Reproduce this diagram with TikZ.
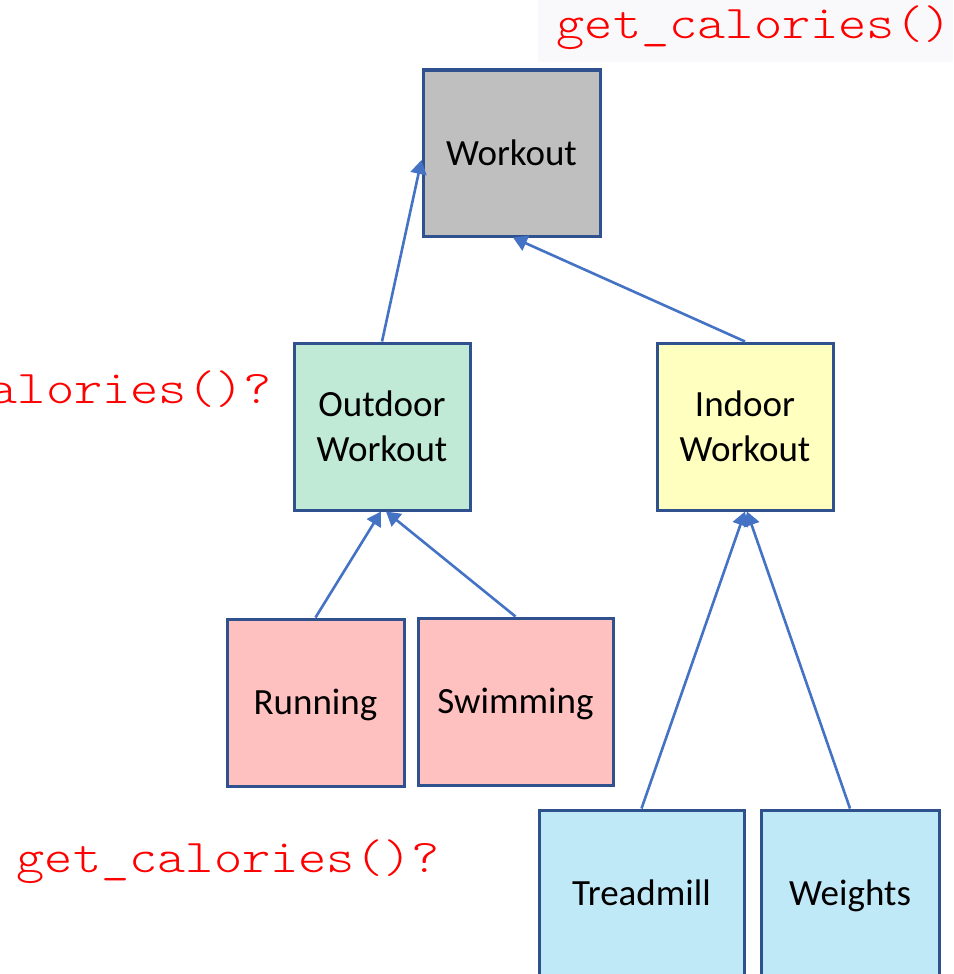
\documentclass[tikz,border=0pt]{standalone}
\usepackage{fontspec}
\setmainfont{Carlito}
\newfontfamily\codefont[FakeStretch=1.143]{Latin Modern Mono Light}
\usetikzlibrary{arrows.meta,calc}

\definecolor{boxline}{HTML}{2F528F}
\definecolor{linkblue}{HTML}{4472C4}
\definecolor{workgray}{HTML}{BFBFBF}
\definecolor{outdoorgreen}{HTML}{C0EAD5}
\definecolor{indooryellow}{HTML}{FFFFC0}
\definecolor{sportpink}{HTML}{FFC0C0}
\definecolor{gymblue}{HTML}{C0E9F8}
\definecolor{codebg}{HTML}{F9F9FC}
\definecolor{codered}{HTML}{FF0000}

\begin{document}
\begin{tikzpicture}[x=1pt,y=-1pt,
  box/.style={draw=boxline, line width=3pt, rectangle, inner sep=0pt,
    font=\fontsize{37}{45}\selectfont, align=center},
  oneline/.style={text height=24pt, text depth=0pt},
  link/.style={draw=linkblue, line width=2.6pt, -{Triangle[width=16pt,length=14pt]}},
  code/.style={text=codered, font=\codefont\fontsize{47}{56}\selectfont,
    inner sep=0pt, anchor=base west}]

\useasboundingbox (0,0) rectangle (953,974);
\clip (0,0) rectangle (953,974);
\fill[white] (0,0) rectangle (953,974);

% class hierarchy boxes
\node[box, oneline, fill=workgray, minimum width=177pt, minimum height=166pt]
  (workout) at (511.5,153) {Workout};
\node[box, fill=outdoorgreen, minimum width=176pt, minimum height=167pt]
  (outdoor) at (382,426.5) {Outdoor\\Workout};
\node[box, fill=indooryellow, minimum width=176pt, minimum height=167pt]
  (indoor) at (745,426.5) {Indoor\\Workout};
\node[box, oneline, fill=sportpink, minimum width=177pt, minimum height=167pt]
  (running) at (315.5,702.5) {Running};
\node[box, oneline, fill=sportpink, minimum width=195pt, minimum height=167pt]
  (swimming) at (515.5,701.5) {Swimming};
\node[box, oneline, fill=gymblue, minimum width=205pt, minimum height=166pt]
  (treadmill) at (641.5,893) {Treadmill};
\node[box, oneline, fill=gymblue, minimum width=178pt, minimum height=166pt]
  (weights) at (850,893) {Weights};

% inheritance arrows
\draw[link] (outdoor.north) -- ($(workout.west)+(0,7)$);
\draw[link] (indoor.north) -- ($(workout.south)+(1.5,0)$);
\draw[link] (running.north) -- ($(outdoor.south)+(-1,0)$);
\draw[link] (swimming.north) -- ($(outdoor.south)+(4,0)$);
\draw[link] (treadmill.north) -- (indoor.south);
\draw[link] (weights.north) -- ($(indoor.south)+(2,0)$);

% method annotations
\fill[codebg] (538,0) rectangle (953,62);
\node[code] (topcall) at (556.5,39) {get\_calories()};
\node[code] (midcall) at (-151.5,403) {get\_calories()?};
\node[code] (lowcall) at (16.5,872) {get\_calories()?};
\end{tikzpicture}
\end{document}
